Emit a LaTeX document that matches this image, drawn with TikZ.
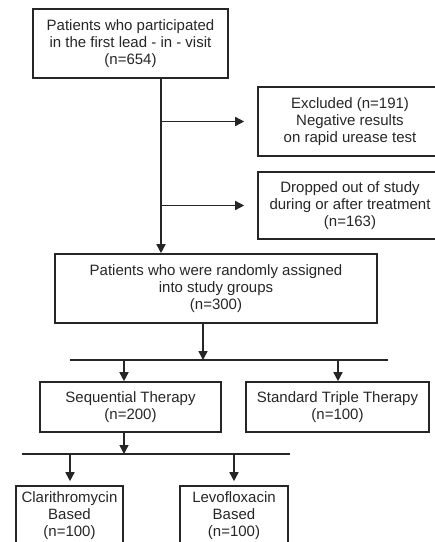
\documentclass[tikz,border=0pt]{standalone}
\usepackage{fontspec}
\setmainfont{Liberation Sans}
\usetikzlibrary{arrows.meta}
\begin{document}
\begin{tikzpicture}[x=1pt,y=-1pt,
    box/.style={draw=black!85,line width=1.6pt,align=center,inner sep=0pt,
        text=black!85,font=\fontsize{15}{17}\selectfont},
    arr/.style={draw=black!85,line width=1.5pt,-{Triangle[length=9pt,width=9pt]}},
    bar/.style={draw=black!85,line width=1.5pt}]

    \clip (0,0) rectangle (435,542);

    \node[box,minimum width=195pt,minimum height=69pt] (start) at (130.5,43.5)
        {Patients who participated\\in the first lead - in - visit\\(n=654)};
    \node[box,minimum width=184pt,minimum height=69pt] (excl) at (350,121.5)
        {Excluded (n=191)\\Negative results\\on rapid urease test};
    \node[box,minimum width=184pt,minimum height=67pt] (drop) at (350,205.5)
        {Dropped out of study\\during or after treatment\\(n=163)};
    \node[box,minimum width=322pt,minimum height=69pt] (rand) at (216,288.5)
        {Patients who were randomly assigned\\into study groups\\(n=300)};
    \node[box,minimum width=181pt,minimum height=50pt] (seq) at (130.5,407)
        {Sequential Therapy\\(n=200)};
    \node[box,minimum width=183pt,minimum height=50pt] (std) at (337.5,407)
        {Standard Triple Therapy\\(n=100)};
    \node[box,minimum width=107pt,minimum height=59pt] (clar) at (69.5,515.5)
        {Clarithromycin\\Based\\(n=100)};
    \node[box,minimum width=108pt,minimum height=59pt] (levo) at (234,515.5)
        {Levofloxacin\\Based\\(n=100)};

    % trunk and side exits
    \coordinate (trunk) at (161,0);
    \draw[arr] (start.south -| trunk) -- (rand.north -| trunk);
    \draw[arr,shorten >=13pt] (trunk |- excl.west) -- (excl.west);
    \draw[arr,shorten >=13pt] (trunk |- drop.west) -- (drop.west);

    % first split
    \coordinate (bar1l) at (70,360);
    \coordinate (bar1r) at (388,360);
    \coordinate (tap1) at (203,360);
    \coordinate (s1) at (124,360);
    \coordinate (s2) at (338,360);
    \draw[arr] (rand.south -| tap1) -- (tap1);
    \draw[bar] (bar1l) -- (bar1r);
    \draw[arr] (s1) -- (s1 |- seq.north);
    \draw[arr] (s2) -- (s2 |- std.north);

    % second split
    \coordinate (bar2l) at (22,454);
    \coordinate (bar2r) at (290,454);
    \coordinate (tap2) at (124,454);
    \coordinate (s3) at (70,454);
    \coordinate (s4) at (234,454);
    \draw[arr] (seq.south -| tap2) -- (tap2);
    \draw[bar] (bar2l) -- (bar2r);
    \draw[arr,shorten >=4pt] (s3) -- (s3 |- clar.north);
    \draw[arr,shorten >=4pt] (s4) -- (s4 |- levo.north);
\end{tikzpicture}
\end{document}
